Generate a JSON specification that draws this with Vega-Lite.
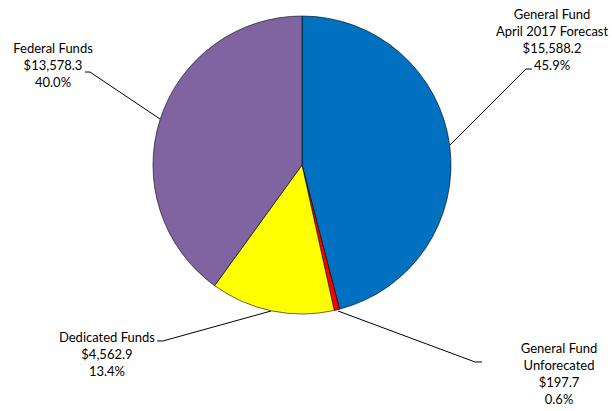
{
  "$schema": "https://vega.github.io/schema/vega-lite/v6.json",
  "width": 604,
  "height": 330,
  "padding": {"left": 0, "top": 0, "right": 8, "bottom": 81},
  "autosize": {"type": "none"},
  "background": "white",
  "config": {"view": {"stroke": null}},
  "datasets": {
    "slices": [
      {"fund": "General Fund April 2017 Forecast", "value": 15588.2, "order": 1},
      {"fund": "General Fund Unforecated", "value": 197.7, "order": 2},
      {"fund": "Dedicated Funds", "value": 4562.9, "order": 3},
      {"fund": "Federal Funds", "value": 13578.3, "order": 4}
    ],
    "leaders": [
      {"fund": "GF", "seq": 1, "x": 0.993, "y": 0.134},
      {"fund": "GF", "seq": 2, "x": 1.503, "y": 0.644},
      {"fund": "GF", "seq": 3, "x": 1.544, "y": 0.644},
      {"fund": "FF", "seq": 1, "x": -0.953, "y": 0.309},
      {"fund": "FF", "seq": 2, "x": -1.423, "y": 0.624},
      {"fund": "FF", "seq": 3, "x": -1.456, "y": 0.624},
      {"fund": "DF", "seq": 1, "x": -0.208, "y": -0.98},
      {"fund": "DF", "seq": 2, "x": -0.933, "y": -1.181},
      {"fund": "DF", "seq": 3, "x": -0.973, "y": -1.181},
      {"fund": "GU", "seq": 1, "x": 0.242, "y": -0.98},
      {"fund": "GU", "seq": 2, "x": 1.161, "y": -1.322},
      {"fund": "GU", "seq": 3, "x": 1.208, "y": -1.322}
    ],
    "labels": [
      {"text": "General Fund\nApril 2017 Forecast\n$15,588.2\n45.9%", "x": 1.678, "y": 1.007},
      {"text": "Federal Funds\n$13,578.3\n40.0%", "x": -1.671, "y": 0.779},
      {"text": "Dedicated Funds\n$4,562.9\n13.4%", "x": -1.309, "y": -1.161},
      {"text": "General Fund\nUnforecated\n$197.7\n0.6%", "x": 1.725, "y": -1.235}
    ]
  },
  "layer": [
    {
      "data": {"name": "slices"},
      "mark": {"type": "arc", "outerRadius": 149, "stroke": "#000000", "strokeWidth": 0.6},
      "encoding": {
        "theta": {"field": "value", "type": "quantitative", "stack": true},
        "order": {"field": "order", "type": "quantitative"},
        "color": {
          "field": "fund",
          "type": "nominal",
          "scale": {
            "domain": ["General Fund April 2017 Forecast", "General Fund Unforecated", "Dedicated Funds", "Federal Funds"],
            "range": ["#0070C0", "#FF0000", "#FFFF00", "#8064A2"]
          },
          "legend": null
        }
      }
    },
    {
      "data": {"name": "leaders"},
      "mark": {"type": "line", "color": "#000000", "strokeWidth": 1},
      "encoding": {
        "x": {"field": "x", "type": "quantitative", "scale": {"domain": [-2.0268, 2.0268], "nice": false, "zero": false}, "axis": null},
        "y": {"field": "y", "type": "quantitative", "scale": {"domain": [-1.1074, 1.1074], "nice": false, "zero": false}, "axis": null},
        "detail": {"field": "fund", "type": "nominal"},
        "order": {"field": "seq", "type": "quantitative"}
      }
    },
    {
      "data": {"name": "labels"},
      "mark": {"type": "text", "lineBreak": "\n", "lineHeight": 17, "font": "Lato", "fontSize": 13, "align": "center", "baseline": "middle", "color": "#000000"},
      "encoding": {
        "x": {"field": "x", "type": "quantitative", "scale": {"domain": [-2.0268, 2.0268], "nice": false, "zero": false}, "axis": null},
        "y": {"field": "y", "type": "quantitative", "scale": {"domain": [-1.1074, 1.1074], "nice": false, "zero": false}, "axis": null},
        "text": {"field": "text", "type": "nominal"}
      }
    }
  ]
}
